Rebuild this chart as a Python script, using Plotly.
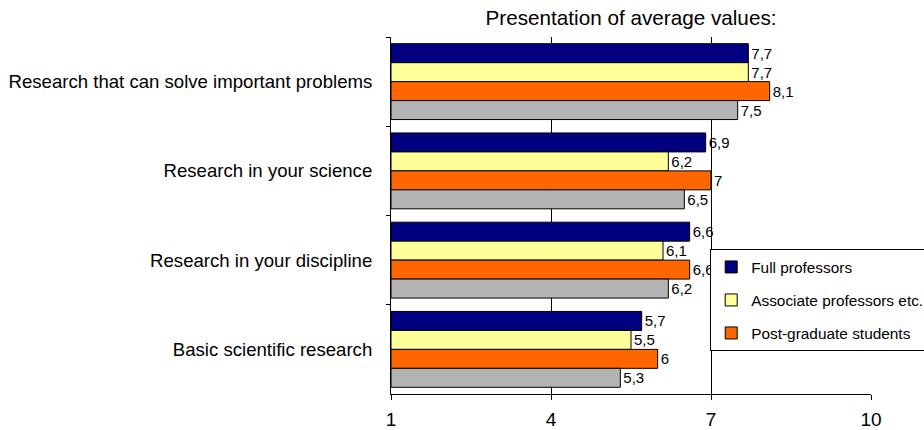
import plotly.graph_objects as go

categories = ["Research that can solve important problems", "Research in your science",
              "Research in your discipline", "Basic scientific research"]
series_names = ["Full professors", "Associate professors etc.", "Post-graduate students", "Other"]
full_prof = [7.7, 6.9, 6.6, 5.7]
assoc_prof = [7.7, 6.2, 6.1, 5.5]
post_grad = [8.1, 7.0, 6.6, 6.0]
other = [7.5, 6.5, 6.2, 5.3]
x_ticks = [1, 4, 7, 10]

colors = ["#000080", "#FFFF99", "#FF6600", "#B3B3B3"]
FONT = "Liberation Sans, Arial, sans-serif"


def fmt(v):
    s = ("%.1f" % v).rstrip("0").rstrip(".")
    return s.replace(".", ",")


fig = go.Figure()
for i, (name, vals) in enumerate(zip(series_names, [full_prof, assoc_prof, post_grad, other])):
    # bars start at 1, so the drawn length is value - 1
    fig.add_trace(go.Bar(
        y=categories, x=[v - 1 for v in vals], base=1, orientation="h", name=name,
        marker=dict(color=colors[i], line=dict(color="black", width=1)),
        text=[fmt(v) for v in vals], textposition="outside", cliponaxis=False,
        textfont=dict(family=FONT, size=15, color="black"),
        legendgroup=name, showlegend=(i < 3),
    ))

fig.update_layout(
    width=924, height=430,
    margin=dict(l=391, r=53, t=37, b=36, autoexpand=False),
    plot_bgcolor="white", paper_bgcolor="white",
    barmode="group", bargap=0.15, bargroupgap=0,
    font=dict(family=FONT, color="black"),
    title=dict(text="Presentation of average values:", x=0.5, xref="paper", xanchor="center",
               y=1 - 18 / 430, yref="container", yanchor="middle",
               font=dict(family=FONT, size=20.7, color="black")),
    legend=dict(x=0.665, y=0.405, xanchor="left", yanchor="top", bgcolor="white",
                bordercolor="black", borderwidth=1, traceorder="grouped", tracegroupgap=10,
                font=dict(family=FONT, size=15.4, color="black")),
    showlegend=True,
)
fig.update_xaxes(range=[1, 10], tickvals=x_ticks, ticktext=[str(t) for t in x_ticks],
                 showgrid=True, gridcolor="black", gridwidth=1, zeroline=False,
                 showline=True, linecolor="black", linewidth=1,
                 ticks="outside", ticklen=5, tickcolor="black", ticklabelstandoff=3,
                 tickfont=dict(family=FONT, size=19, color="black"))
fig.update_yaxes(autorange="reversed", showgrid=False, showline=True, linecolor="black", linewidth=1,
                 ticks="outside", ticklen=4, tickcolor="black", tickson="boundaries",
                 ticklabelstandoff=14, tickfont=dict(family=FONT, size=18.6, color="black"))

fig.write_html("out.html", config={"displayModeBar": False},
               post_script="document.body.style.margin='0';")
